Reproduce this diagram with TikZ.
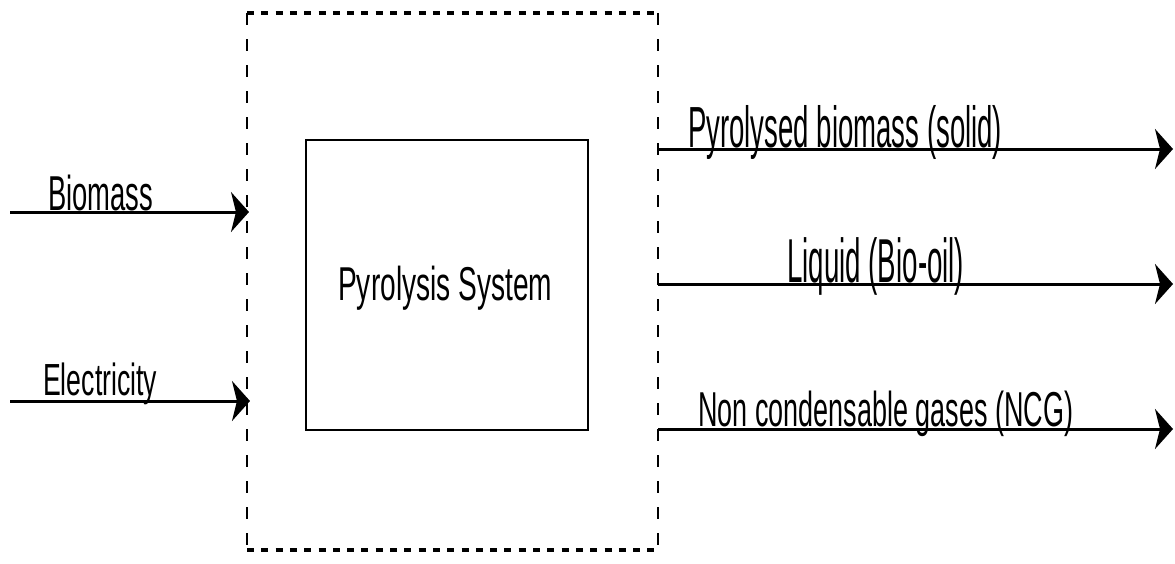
\documentclass[tikz,border=0pt]{standalone}
\usepackage{fontspec}
\setmainfont{Liberation Sans}
\usetikzlibrary{arrows.meta}
\newcommand{\lbl}[3]{\resizebox{#1pt}{\height}{\fontsize{#2}{#2}\selectfont #3}}
\tikzset{
  flow/.style={line width=3pt,-{Stealth[length=18pt,width=40pt,inset=5pt]}},
  txt/.style={anchor=base west,inner sep=0pt},
  hdash/.style={line width=3.5pt,dash pattern=on 7pt off 7.3pt},
  vdash/.style={line width=2pt,dash pattern=on 12pt off 14pt},
  sysbox/.style={draw,line width=2.6pt,inner sep=0pt}
}
\begin{document}
\begin{tikzpicture}[x=1pt,y=-1pt]
\useasboundingbox[fill=white] (0,0) rectangle (1175,563);
% dashed boundary
\coordinate (tl) at (247,13);
\coordinate (tr) at (658,13);
\coordinate (bl) at (247,550);
\coordinate (br) at (658,550);
\draw[hdash] (tl) -- (tr);
\draw[hdash] (bl) -- (br);
\draw[vdash] (tl) -- (bl);
\draw[vdash] (tr) -- (br);
% inner system box
\node[sysbox,minimum width=282pt,minimum height=290pt] (sys) at (447,285) {};
\node[txt] (systxt) at (338,300) {\lbl{214}{47.5}{Pyrolysis System}};
% inputs
\coordinate (bi0) at (10,212);
\coordinate (bi1) at (249,212);
\coordinate (el0) at (10,401);
\coordinate (el1) at (250,401);
\draw[flow] (bi0) -- (bi1);
\draw[flow] (el0) -- (el1);
\node[txt] (bitxt) at (48,210) {\lbl{105}{49}{Biomass}};
\node[txt] (eltxt) at (43,395) {\lbl{114}{45}{Electricity}};
% outputs
\coordinate (o1a) at (658,149);
\coordinate (o1b) at (1173,149);
\coordinate (o2a) at (658,284);
\coordinate (o2b) at (1173,284);
\coordinate (o3a) at (658,429);
\coordinate (o3b) at (1173,429);
\draw[flow] (o1a) -- (o1b);
\draw[flow] (o2a) -- (o2b);
\draw[flow] (o3a) -- (o3b);
\node[txt] (o1txt) at (688,147) {\lbl{314}{58}{Pyrolysed biomass (solid)}};
\node[txt] (o2txt) at (787,282) {\lbl{177}{62}{Liquid (Bio-oil)}};
\node[txt] (o3txt) at (698,426) {\lbl{375}{49}{Non condensable gases (NCG)}};
\end{tikzpicture}
\end{document}
